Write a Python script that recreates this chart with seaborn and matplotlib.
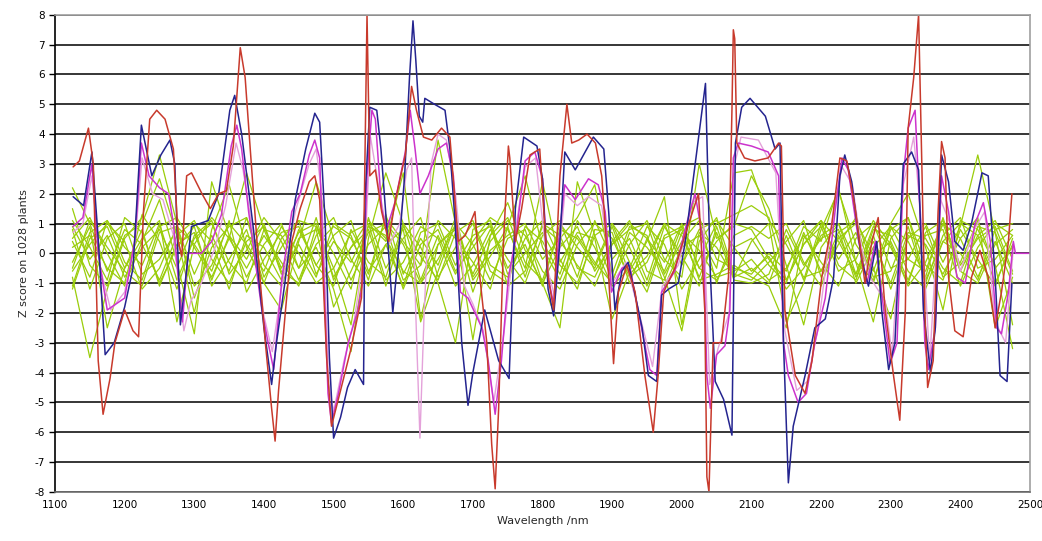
import numpy as np
import pandas as pd
import matplotlib
matplotlib.use("Agg")
import matplotlib.pyplot as plt
import seaborn as sns

# Output
OUT_PATH = "out.png"

# Background plants (green) - wavelength grid in nm, one row = 11 points
green_wl = np.arange(1125, 2476, 25)

green_1 = [2.2, 1.0, -0.6, 0.8, 0.3, -0.9, 0.6, 1.1, -0.2, -1.0, 0.4,
           0.9, -0.5, 0.7, 1.0, -0.8, 0.2, 1.1, 0.5, -0.6, -1.0, 0.3,
           0.9, -0.7, 0.6, 1.2, -0.3, -0.9, 0.8, 0.5, -0.4, 1.0, 0.2,
           -1.1, 0.6, 0.9, -0.5, 0.4, 1.0, 0.8, -0.2, -0.9, 0.3, 1.1,
           0.4, -0.7, 0.9, 0.2, -1.0, 0.7, 1.1, -0.4, 0.5, 0.9, -0.6]
green_2 = [-0.8, -3.5, -1.2, 0.5, 1.2, 3.3, 1.0, -1.5, 0.2, 0.9, 1.2,
           -0.4, -1.1, 0.5, 0.8, -1.8, -0.6, 0.7, 1.0, 0.3, -1.0, -0.2,
           0.9, -1.3, 0.4, 1.1, 0.6, -0.6, -1.2, 0.3, 1.0, 0.5, -0.8,
           -0.3, 1.0, -0.4, 0.8, 1.1, 0.2, -0.6, -0.1, -1.2, -0.5, 0.6,
           1.0, -0.3, -2.3, 0.5, 1.2, -0.9, 0.4, 1.0, 0.6, -1.0, 0.3]
green_3 = [0.5, 1.2, 0.0, -1.1, 0.4, 1.8, -0.3, -2.7, 2.4, 0.6, -0.8,
           0.3, 1.0, -0.5, 0.2, -1.2, -3.3, 0.5, 2.7, 1.0, -0.9, 0.6,
           -0.7, 0.4, 1.2, 0.8, -0.5, 2.4, -0.3, 0.7, 0.5, -2.2, -0.6,
           0.4, 1.9, -2.4, 0.7, 0.2, -0.8, 0.4, 1.0, -2.3, -1.0, 0.8,
           2.1, 0.3, -0.6, 1.0, 2.0, 0.2, -1.9, 1.1, 0.8, -0.4, -3.2]
green_4 = [1.5, -0.4, -1.1, 0.6, 1.0, 2.5, 0.6, -2.0, 0.8, 2.3, 0.2,
           -1.0, 0.5, 1.1, 0.9, -0.5, -2.4, 1.0, 0.4, 2.7, -2.2, 0.3,
           0.8, -2.9, 0.6, 1.7, 0.1, -1.0, -2.5, 2.4, 0.6, -0.9, 0.3,
           1.1, -0.2, -0.8, 3.0, 0.5, 0.9, 2.6, 1.5, -0.4, -2.4, 0.2,
           1.0, -0.7, 0.6, -1.2, 0.5, 1.0, -0.3, 0.9, 3.3, 0.7, -2.4]
green_5 = [-1.1, 0.7, 1.1, -0.3, -0.9, 0.9, 1.2, 0.2, -0.8, 0.5, 2.7,
           0.8, -0.6, -1.0, 0.3, 0.9, 0.5, -0.7, 1.2, 0.4, -0.4, 3.8,
           1.0, -0.8, 0.1, 0.6, 1.0, -0.2, 0.5, 1.2, 2.3, -0.7, 0.9,
           0.6, -1.1, 0.2, 0.6, -0.5, 2.7, 2.8, 1.1, 0.3, -0.8, -0.6,
           0.7, 1.1, -0.1, 0.4, -0.9, 0.6, 0.8, -1.1, 0.2, 1.0, 0.6]
green_6 = [0.8, -1.2, 0.5, 1.0, -0.7, -0.2, 0.8, -1.1, -0.4, 1.0, 0.3,
           -0.6, 0.9, 0.0, -1.0, -0.5, 0.7, 1.0, -0.9, -0.3, 0.9, 0.5,
           -1.1, -0.4, 0.8, -0.2, -1.0, 0.6, 1.1, -0.5, -0.8, 0.4, 1.1,
           -0.6, -0.9, 0.7, 0.1, -0.8, -0.6, -0.2, -0.9, -0.5, 0.6, -0.3,
           -1.1, 0.5, 1.0, -0.5, -0.2, 0.9, -0.8, -0.3, 1.1, -0.5, 0.2]
green_7 = [0.2, 0.6, -0.5, -1.0, 1.3, 0.4, -1.2, 0.6, 1.1, -0.7, 0.1,
           1.2, 0.4, -0.9, 0.6, 1.2, -0.2, -1.1, 0.3, 0.8, -2.3, -0.6,
           1.0, 0.3, -0.9, 0.5, 0.8, -1.0, 0.2, 0.9, -0.6, 0.3, 1.0,
           0.5, -0.8, -2.6, 0.4, 1.2, -0.7, -0.9, -0.3, 0.4, 1.1, -0.8,
           0.3, 1.2, -0.5, -2.2, 0.6, 0.3, -0.7, 0.5, 1.2, -2.5, -0.8]
green_8 = [-0.6, 0.3, 1.0, 0.4, -1.2, -0.5, 0.9, 0.3, -0.6, 1.1, -1.3,
           -0.2, 0.7, 0.9, -0.4, -1.1, 0.8, -0.3, -0.8, 1.0, 0.2, -1.0,
           -3.0, 0.8, 1.1, -0.7, 0.0, 0.7, -0.4, -1.0, 0.6, 1.0, -0.3,
           -1.3, 0.5, 0.8, -0.9, -0.7, -0.4, -0.8, -1.1, -2.5, 0.5, 1.1,
           -0.4, -0.9, 0.8, 0.6, -0.6, -1.2, 0.4, 0.0, -0.9, 0.8, 1.0]
green_9 = [1.1, 0.2, -0.9, 1.2, 0.7, -1.0, 0.2, 0.9, -1.1, -0.2, 0.8,
           -1.0, -1.9, 0.4, 2.4, 0.5, -0.9, 0.3, 0.9, -0.9, -0.4, 1.1,
           0.5, -0.3, -1.2, 0.9, 2.6, 0.2, -0.9, 0.6, -0.3, -1.0, 0.7,
           0.2, -0.6, 0.9, 1.2, -0.2, -0.5, -0.7, 0.0, -0.6, 0.9, 0.4,
           2.2, -0.3, -0.9, 0.8, 1.2, -0.4, -0.9, 0.8, -0.2, -1.1, 0.5]
green_10 = [-0.3, 0.9, -2.5, -0.5, 0.5, 1.1, -2.3, 0.3, 1.2, 0.5, -0.5,
            0.6, -0.3, -1.1, 0.9, 0.0, -1.2, 1.2, -0.5, 0.5, 1.2, -0.8,
            0.2, 1.0, -0.6, -1.0, 0.9, 0.4, -0.7, 1.1, 0.2, -1.1, -0.5,
            0.9, 0.3, -1.2, -0.2, 1.0, 1.3, 1.6, 1.2, -0.9, 0.3, 0.9,
            -0.6, -0.2, 1.1, 0.3, -1.1, -0.3, 1.0, 0.5, -0.8, 0.4, -1.0]
green_11 = [0.9, -0.2, 0.6, -0.8, 0.2, 0.8, -0.5, 1.0, 0.4, -1.2, 0.6,
            0.2, -0.9, 0.8, -0.4, 0.6, 1.1, -0.6, 0.3, -1.1, 0.7, 1.0,
            -0.4, 0.6, 0.9, -0.5, 0.3, -1.1, 1.0, 0.2, -0.5, 0.9, -0.7,
            -0.1, 1.0, 0.6, -0.8, 0.7, -0.9, -1.0, -0.7, 0.8, -0.4, 0.5,
            0.8, -1.0, 0.2, 0.9, -0.2, -0.6, 1.0, -0.6, 0.6, 1.1, -0.2]
green_12 = [-1.2, 0.5, 0.9, -0.5, 0.8, -1.1, 0.3, 0.7, -0.9, 0.6, -0.2,
            1.0, -0.7, 0.3, -0.8, 1.0, 0.6, -0.9, 1.3, -0.7, 0.5, -0.4,
            1.2, -0.9, -0.1, 0.9, -0.8, 1.0, 0.6, -0.8, 1.1, -0.2, 0.5,
            -0.9, 0.9, -0.1, -1.1, 0.9, -0.8, -0.5, -1.0, 0.6, -0.9, 1.0,
            -0.2, 0.7, -1.0, 0.9, 0.4, -0.8, 1.2, -0.6, -1.0, 0.3, 0.8]
green_13 = [0.4, -0.8, 1.1, 0.2, -0.4, 1.0, -0.9, 0.5, 1.0, -0.3, -1.0,
            0.8, 0.6, -0.5, 1.2, -0.9, 0.2, 0.8, -1.1, 0.9, -0.1, -0.9,
            0.7, 1.1, -0.4, -0.8, 0.5, 1.1, -0.2, -1.2, 0.8, 0.7, -1.0,
            0.5, -0.3, 1.0, -0.5, -0.9, 0.2, 0.5, -0.4, -1.0, 0.7, -0.6,
            0.5, 1.0, -0.8, -0.6, 0.9, -1.0, 0.6, 1.2, -0.5, -0.2, 0.6]
green_14 = [-0.5, 1.1, 0.2, -0.6, -1.1, 0.7, 0.9, -0.7, 0.6, -0.6, 1.2,
            -0.8, 0.2, 1.1, -0.7, 0.4, -0.3, 0.9, 0.6, -1.2, 0.3, 0.8,
            -0.6, 0.2, 1.0, -1.1, -0.6, 0.9, 0.4, -0.4, -1.1, 0.3, 0.8,
            1.0, -0.7, 0.4, 1.1, -1.0, 0.6, 0.9, 0.5, 1.0, -0.3, -1.1,
            0.6, -0.8, 0.4, -1.0, 0.7, 0.5, -0.5, -1.0, 0.9, 0.7, -0.7]

green_lines = [green_1, green_2, green_3, green_4, green_5, green_6, green_7,
               green_8, green_9, green_10, green_11, green_12, green_13, green_14]

# Highlighted plants
blue_wl = [1126, 1141, 1153, 1162, 1172, 1185, 1200, 1212, 1224, 1239, 1252, 1265, 1272, 1280,
           1296, 1320, 1335, 1351, 1358, 1368, 1385, 1400, 1411, 1418, 1430, 1445, 1460, 1473,
           1480, 1488, 1494, 1500, 1510, 1520, 1531, 1543, 1545, 1552, 1562, 1568, 1576, 1585,
           1595, 1602, 1609, 1614, 1618, 1623, 1628, 1631, 1645, 1660, 1667, 1674, 1684, 1693,
           1700, 1717, 1737, 1752, 1761, 1773, 1792, 1800, 1808, 1816, 1825, 1832, 1847, 1873,
           1888, 1895, 1904, 1914, 1923, 1943, 1952, 1964, 1971, 1981, 1995, 2005, 2017, 2029,
           2034, 2041, 2048, 2060, 2072, 2077, 2086, 2098, 2120, 2134, 2141, 2146, 2153, 2160,
           2177, 2191, 2206, 2218, 2227, 2234, 2244, 2258, 2268, 2280, 2287, 2297, 2306, 2318,
           2330, 2340, 2347, 2357, 2364, 2373, 2383, 2392, 2404, 2416, 2431, 2440, 2450, 2457,
           2467, 2474]
blue_z = [1.9, 1.6, 3.4, 0.5, -3.4, -3.0, -1.8, -0.5, 4.3, 2.6, 3.3, 3.8, 3.0, -2.4,
          0.9, 1.1, 2.0, 4.8, 5.3, 4.0, 0.8, -2.5, -4.4, -3.0, -1.0, 1.8, 3.5, 4.7,
          4.4, 1.0, -3.5, -6.2, -5.5, -4.5, -3.9, -4.4, 1.8, 4.9, 4.8, 3.5, 1.0, -2.0,
          0.5, 2.6, 5.9, 7.8, 6.5, 4.6, 4.4, 5.2, 5.0, 4.8, 3.5, 1.2, -3.0, -5.1,
          -4.0, -1.9, -3.6, -4.2, 1.5, 3.9, 3.6, 2.5, -1.2, -2.1, 0.4, 3.4, 2.8, 3.9,
          3.5, 1.4, -1.9, -0.6, -0.3, -2.5, -4.1, -4.3, -1.4, -1.2, -1.0, 0.4, 2.6, 4.8,
          5.7, -0.7, -4.3, -4.9, -6.1, 3.7, 4.9, 5.2, 4.6, 3.5, 3.7, -3.0, -7.7, -5.8,
          -4.1, -2.5, -2.2, -0.8, 2.6, 3.3, 2.4, -0.2, -1.1, 0.4, -1.9, -3.9, -3.0, 3.0,
          3.4, 2.8, -1.9, -4.0, -2.5, 3.3, 2.4, 0.4, 0.1, 1.0, 2.7, 2.6, -0.8, -4.1,
          -4.3, -1.0]

red_wl = [1126, 1135, 1148, 1155, 1162, 1169, 1179, 1186, 1200, 1212, 1220, 1227, 1236, 1246,
          1258, 1270, 1277, 1282, 1289, 1296, 1311, 1323, 1335, 1346, 1356, 1366, 1373, 1380,
          1390, 1402, 1411, 1416, 1421, 1431, 1440, 1452, 1465, 1473, 1480, 1490, 1497, 1510,
          1525, 1540, 1544, 1548, 1552, 1560, 1569, 1579, 1588, 1603, 1612, 1619, 1629, 1641,
          1655, 1667, 1679, 1689, 1703, 1710, 1720, 1727, 1732, 1737, 1744, 1751, 1753, 1761,
          1770, 1782, 1796, 1808, 1816, 1825, 1835, 1842, 1852, 1864, 1876, 1885, 1895, 1902,
          1909, 1921, 1933, 1947, 1959, 1966, 1974, 1990, 2010, 2024, 2033, 2036, 2039, 2045,
          2057, 2067, 2072, 2074, 2076, 2079, 2090, 2105, 2124, 2139, 2143, 2148, 2163, 2177,
          2187, 2201, 2215, 2227, 2237, 2249, 2263, 2273, 2282, 2292, 2304, 2313, 2321, 2325,
          2333, 2340, 2345, 2349, 2353, 2361, 2368, 2373, 2378, 2383, 2392, 2404, 2416, 2428,
          2440, 2450, 2459, 2469, 2474]
red_z = [2.9, 3.1, 4.2, 3.0, -3.6, -5.4, -4.2, -3.0, -1.9, -2.6, -2.8, 1.4, 4.5, 4.8,
         4.5, 3.5, 0.4, -0.1, 2.6, 2.7, 2.0, 1.5, 2.0, 2.1, 3.6, 6.9, 5.9, 3.6,
         0.4, -3.0, -5.2, -6.3, -4.6, -1.9, 0.4, 1.5, 2.4, 2.6, 1.8, -3.5, -5.8, -4.6,
         -3.2, -1.5, 1.5, 8.0, 2.6, 2.8, 1.4, 0.4, 1.7, 3.3, 5.6, 4.8, 3.9, 3.8,
         4.2, 3.9, 0.4, 0.6, 1.4, -0.8, -3.0, -6.4, -7.9, -5.2, 0.4, 3.6, 3.2, 0.4,
         1.5, 3.3, 3.5, -0.8, -1.9, 2.6, 5.0, 3.7, 3.8, 4.0, 3.7, 2.6, -0.8, -3.7,
         -1.3, -0.4, -1.3, -4.1, -6.0, -4.1, -1.3, -0.5, 1.0, 2.0, -1.9, -7.5, -8.0, -3.0,
         -3.0, -0.8, 4.8, 7.5, 7.2, 3.7, 3.2, 3.1, 3.2, 3.7, 3.6, -1.9, -4.1, -4.7,
         -3.6, -0.8, 0.9, 3.2, 3.1, 1.5, -1.0, 0.4, 1.2, -1.9, -4.1, -5.6, -1.9, 4.2,
         5.9, 8.0, 2.6, -1.9, -4.5, -3.6, 1.4, 3.75, 3.2, -0.8, -2.6, -2.8, -0.8, 0.1,
         -0.8, -2.5, -1.3, 0.4, 2.0]

magenta_wl = [1126, 1140, 1153, 1162, 1175, 1200, 1215, 1224, 1235, 1250, 1263, 1270, 1283, 1291,
              1310, 1325, 1339, 1353, 1361, 1368, 1378, 1397, 1406, 1414, 1426, 1440, 1452, 1465,
              1473, 1480, 1492, 1497, 1507, 1521, 1535, 1543, 1548, 1555, 1560, 1569, 1576, 1588,
              1603, 1610, 1617, 1624, 1636, 1650, 1662, 1672, 1682, 1693, 1713, 1722, 1732, 1741,
              1751, 1761, 1775, 1789, 1800, 1808, 1816, 1823, 1832, 1847, 1866, 1880, 1890, 1899,
              1914, 1925, 1943, 1954, 1964, 1971, 1990, 2007, 2019, 2031, 2036, 2041, 2050, 2062,
              2069, 2074, 2081, 2100, 2124, 2139, 2146, 2153, 2167, 2179, 2191, 2206, 2220, 2230,
              2239, 2254, 2266, 2278, 2290, 2299, 2309, 2318, 2325, 2335, 2342, 2349, 2354, 2364,
              2373, 2383, 2395, 2407, 2421, 2433, 2443, 2452, 2459, 2469, 2476, 2479, 2500]
magenta_z = [0.9, 1.2, 3.0, 0.0, -1.9, -1.5, 0.5, 3.7, 2.6, 2.2, 2.0, 1.0, -2.3, 0.0,
             0.0, 0.4, 1.3, 3.6, 4.3, 3.5, 1.4, -1.9, -3.0, -3.9, -0.8, 1.4, 2.0, 3.3,
             3.8, 3.2, -4.7, -5.7, -4.7, -3.0, -1.9, -0.8, 2.6, 4.8, 4.5, 1.5, 0.8, 1.7,
             3.4, 4.8, 3.5, 2.0, 2.6, 3.5, 3.7, 2.6, -1.3, -1.5, -2.5, -3.6, -5.4, -3.6,
             -0.8, 0.4, 3.1, 3.4, 2.5, -0.8, -1.7, 0.4, 2.3, 1.8, 2.5, 2.3, 1.4, -1.3,
             -0.5, -0.4, -2.6, -3.9, -4.1, -1.3, -0.6, 1.0, 2.0, 0.4, -4.1, -5.2, -3.4, -3.1,
             -1.9, 3.2, 3.7, 3.6, 3.4, 2.6, -3.0, -4.1, -5.0, -4.7, -3.0, -1.5, 1.4, 3.2,
             2.8, 0.4, -1.0, 0.4, -1.9, -3.7, -3.0, 2.6, 4.2, 4.8, 1.4, -3.0, -3.9, -2.5,
             2.6, 1.4, -0.8, -1.0, 1.0, 1.7, 0.4, -2.5, -2.7, -1.3, 0.4, 0.0, 0.0]

pink_wl = [1126, 1140, 1153, 1165, 1180, 1200, 1215, 1225, 1240, 1255, 1270, 1285, 1295, 1310,
           1330, 1345, 1360, 1370, 1385, 1400, 1412, 1425, 1445, 1465, 1475, 1483, 1493, 1500,
           1515, 1530, 1545, 1553, 1565, 1580, 1595, 1605, 1612, 1618, 1624, 1630, 1640, 1650,
           1662, 1675, 1688, 1700, 1715, 1730, 1745, 1760, 1775, 1790, 1808, 1818, 1832, 1850,
           1866, 1885, 1900, 1920, 1943, 1958, 1972, 1995, 2015, 2030, 2040, 2052, 2068, 2076,
           2085, 2110, 2135, 2148, 2165, 2180, 2195, 2215, 2230, 2245, 2258, 2270, 2292, 2302,
           2318, 2333, 2345, 2356, 2370, 2385, 2400, 2420, 2435, 2450, 2465, 2476]
pink_z = [0.7, 1.0, 2.6, -0.5, -1.9, -1.3, 0.4, 3.2, 2.0, 1.8, 0.6, -2.6, -1.6, -1.0,
          0.2, 1.6, 3.7, 2.8, 0.6, -2.1, -3.3, -1.2, 1.4, 3.0, 3.5, 2.0, -4.4, -5.3,
          -3.6, -2.2, 0.2, 3.9, 2.2, 0.3, 1.0, 2.8, 3.2, -2.0, -6.2, -2.0, 3.0, 4.0,
          3.8, 2.0, -1.1, -1.7, -2.6, -5.0, -2.6, 0.6, 2.9, 3.2, -0.6, -1.5, 2.0, 1.6,
          1.9, 1.6, -1.0, -0.3, -2.4, -3.8, -1.1, -0.4, 1.7, 1.9, -4.4, -3.2, -2.0, 3.0,
          3.9, 3.8, 2.7, -2.6, -4.6, -4.3, -2.6, 1.0, 2.9, 2.3, 0.2, -0.8, -1.6, -3.4,
          2.3, 3.9, 0.8, -3.6, 1.9, 1.0, -0.6, 0.8, 1.4, -2.3, -3.0, 0.2]

# Green plants in long form for seaborn
green_df = pd.DataFrame({
    "wl": np.tile(green_wl, len(green_lines)),
    "z": np.concatenate(green_lines),
    "plant": np.repeat(np.arange(len(green_lines)), len(green_wl)),
})

sns.set_style("white")
plt.rcParams["font.family"] = ["DejaVu Sans"]
plt.rcParams["axes.unicode_minus"] = False

fig = plt.figure(figsize=(10.42, 5.41), dpi=100)
ax = fig.add_axes([0.0528, 0.091, 0.9357, 0.8815])

# Horizontal grid lines at each unit
ax.set_yticks(range(-8, 9))
ax.yaxis.grid(True, color="black", linewidth=1.1)
ax.set_axisbelow(True)

sns.lineplot(data=green_df, x="wl", y="z", units="plant", estimator=None,
             color="#9ACD0A", linewidth=0.9, ax=ax, legend=False)
sns.lineplot(x=pink_wl, y=pink_z, color="#E4A2DA", linewidth=1.0, ax=ax)
sns.lineplot(x=magenta_wl, y=magenta_z, color="#CC33CC", linewidth=1.1, ax=ax)
sns.lineplot(x=blue_wl, y=blue_z, color="#24248F", linewidth=1.1, ax=ax)
sns.lineplot(x=red_wl, y=red_z, color="#C83A2C", linewidth=1.1, ax=ax)

ax.set_xlim(1100, 2500)
ax.set_ylim(-8, 8)
ax.set_xticks(range(1100, 2501, 100))

ax.set_xlabel("Wavelength /nm", fontsize=8)
ax.set_ylabel("Z score on 1028 plants", fontsize=8, labelpad=4)
ax.tick_params(axis="both", labelsize=7.5, colors="black")
ax.tick_params(axis="y", direction="out", length=4, width=1, left=True)
ax.tick_params(axis="x", length=0, pad=6)

for side in ["top", "right"]:
    ax.spines[side].set_color("#A0A0A0")
    ax.spines[side].set_linewidth(1.2)
ax.spines["left"].set_color("black")
ax.spines["left"].set_linewidth(1.2)
ax.spines["bottom"].set_color("#707070")
ax.spines["bottom"].set_linewidth(1.2)

plt.savefig(OUT_PATH, dpi=100)
